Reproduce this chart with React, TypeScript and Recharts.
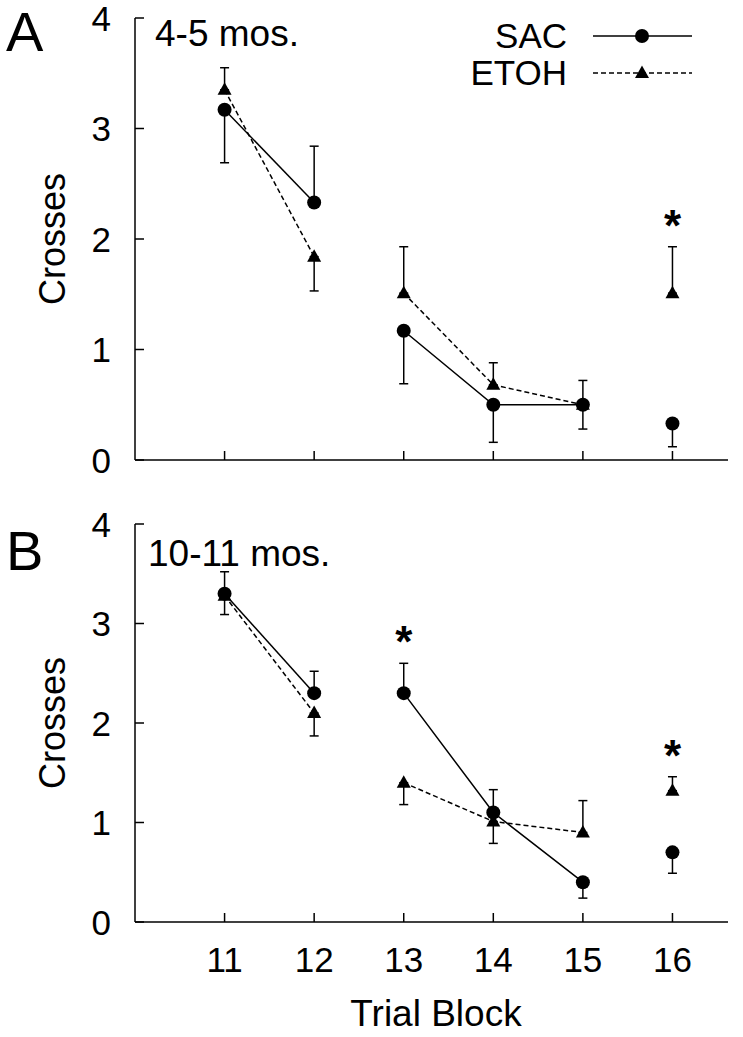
import React from 'react';
import { LineChart, Line, XAxis, YAxis, ErrorBar, Legend, ReferenceDot } from 'recharts';

// trial blocks and how the lines are broken up
const blocks = [11, 12, 13, 14, 15, 16];
const segments = [[11, 12], [13, 14, 15], [16]];
const seriesNames = ['SAC', 'ETOH'];
const yTicks = [0, 1, 2, 3, 4];

// A: 4-5 mos. (negative error = bar drawn downward)
const sacA = [3.17, 2.33, 1.17, 0.5, 0.5, 0.33];
const sacErrA = [-0.48, 0.51, -0.48, -0.34, -0.22, -0.21];
const etohA = [3.35, 1.84, 1.51, 0.68, 0.5, 1.51];
const etohErrA = [0.2, -0.31, 0.42, 0.2, 0.22, 0.42];
const sigA = [16];

// B: 10-11 mos.
const sacB = [3.3, 2.3, 2.3, 1.1, 0.4, 0.7];
const sacErrB = [-0.21, 0.22, 0.3, 0.23, -0.16, -0.21];
const etohB = [3.28, 2.1, 1.4, 1.01, 0.9, 1.32];
const etohErrB = [0.24, -0.23, -0.22, -0.22, 0.32, 0.14];
const sigB = [13, 16];

const FONT = '"Liberation Sans", Arial, Helvetica, sans-serif';
const W = 743;
const AXIS_LEFT = 135;
const Y_W = 60;
const X_H = 30;

function segRows(vals: number[], errs: number[], seg: number[]) {
  return seg.map((b) => {
    const i = blocks.indexOf(b);
    const e = errs[i];
    return { block: b, v: vals[i], err: e < 0 ? [-e, 0] : [0, e] };
  });
}

function topAt(b: number, lists: [number[], number[]][]) {
  const i = blocks.indexOf(b);
  return Math.max(...lists.map(([v, e]) => v[i] + Math.max(e[i], 0)));
}

const CircleDot = (props: any) => {
  const { cx, cy } = props;
  if (cx == null || cy == null) return <g />;
  return <circle cx={cx} cy={cy} r={7} fill="#000" />;
};

const TriangleDot = (props: any) => {
  const { cx, cy } = props;
  if (cx == null || cy == null) return <g />;
  return <polygon points={`${cx},${cy - 7.5} ${cx - 7},${cy + 5} ${cx + 7},${cy + 5}`} fill="#000" />;
};

// tick coords come in at the axis line (tickSize/tickMargin = 0)
const makeXTick = (showLabel: boolean) => (props: any) => {
  const { x, y, payload } = props;
  return (
    <g>
      <line x1={x} x2={x} y1={y} y2={y - 9} stroke="#000" strokeWidth={1.5} />
      {showLabel && (
        <text x={x} y={y + 50} textAnchor="middle" fontSize={35} fontFamily={FONT} fill="#000">
          {payload.value}
        </text>
      )}
    </g>
  );
};

const YTick = (props: any) => {
  const { x, y, payload } = props;
  return (
    <g>
      <line x1={x} x2={x + 9} y1={y} y2={y} stroke="#000" strokeWidth={1.5} />
      <text x={x - 24} y={y + 12.5} textAnchor="end" fontSize={35} fontFamily={FONT} fill="#000">
        {payload.value}
      </text>
    </g>
  );
};

const StarLabel = (props: any) => {
  const vb = props.viewBox || {};
  const cx = vb.x + (vb.width || 0) / 2;
  const cy = vb.y + (vb.height || 0) / 2;
  return (
    <text x={cx} y={cy - 6} textAnchor="middle" fontSize={44} fontWeight="bold" fontFamily={FONT} fill="#000">
      *
    </text>
  );
};

const LegendContent = (props: any) => {
  const seen: string[] = [];
  (props.payload || []).forEach((p: any) => {
    if (seriesNames.includes(p.value) && !seen.includes(p.value)) seen.push(p.value);
  });
  seen.sort((a, b) => seriesNames.indexOf(a) - seriesNames.indexOf(b));
  return (
    <svg width={340} height={100} style={{ display: 'block' }}>
      {seen.map((name, i) => {
        const ly = 36 + i * 37;
        const dashed = name === 'ETOH';
        return (
          <g key={name}>
            <text x={187} y={ly + 12} textAnchor="end" fontSize={35} fontFamily={FONT} fill="#000">
              {name}
            </text>
            <line x1={213} x2={312} y1={ly} y2={ly} stroke="#000" strokeWidth={1.5} strokeDasharray={dashed ? '5 3' : undefined} />
            {dashed ? <TriangleDot cx={262} cy={ly} /> : <CircleDot cx={262} cy={ly} />}
          </g>
        );
      })}
    </svg>
  );
};

interface PanelProps {
  sac: number[];
  sacErr: number[];
  etoh: number[];
  etohErr: number[];
  sig: number[];
  height: number;
  plotTop: number;
  plotBottom: number;
  letter: string;
  title: string;
  letterY: number;
  titleY: number;
  titleX: number;
  bottomAxis: boolean;
  legend: boolean;
}

function Panel(p: PanelProps) {
  const series = [
    { name: 'SAC', vals: p.sac, errs: p.sacErr, dash: undefined, dot: CircleDot },
    { name: 'ETOH', vals: p.etoh, errs: p.etohErr, dash: '5 3', dot: TriangleDot },
  ];
  const midY = (p.plotTop + p.plotBottom) / 2;
  return (
    <div style={{ position: 'relative', width: W, height: p.height }}>
      <LineChart
        width={W}
        height={p.height}
        margin={{ top: p.plotTop, right: 15, bottom: p.height - p.plotBottom - X_H, left: AXIS_LEFT - Y_W }}
      >
        <XAxis
          type="number"
          dataKey="block"
          domain={[10, 16.62]}
          ticks={blocks}
          height={X_H}
          tickSize={0}
          tickMargin={0}
          tickLine={false}
          tick={makeXTick(p.bottomAxis)}
          axisLine={{ stroke: '#000', strokeWidth: 1.5 }}
          allowDataOverflow
        />
        <YAxis
          type="number"
          domain={[0, 4]}
          ticks={yTicks}
          width={Y_W}
          tickSize={0}
          tickMargin={0}
          tickLine={false}
          tick={YTick}
          axisLine={{ stroke: '#000', strokeWidth: 1.5 }}
        />
        {series.map((s) =>
          segments.map((seg, k) => (
            <Line
              key={s.name + k}
              data={segRows(s.vals, s.errs, seg)}
              dataKey="v"
              name={s.name}
              legendType={k === 0 ? 'line' : 'none'}
              type="linear"
              stroke="#000"
              strokeWidth={1.5}
              strokeDasharray={s.dash}
              dot={s.dot}
              activeDot={false}
              isAnimationActive={false}
            >
              <ErrorBar dataKey="err" direction="y" width={4.5} stroke="#000" strokeWidth={1.5} isAnimationActive={false} />
            </Line>
          ))
        )}
        {p.sig.map((b) => (
          <ReferenceDot
            key={'sig' + b}
            x={b}
            y={topAt(b, [[p.sac, p.sacErr], [p.etoh, p.etohErr]])}
            r={0}
            fill="none"
            stroke="none"
            label={StarLabel}
          />
        ))}
        {p.legend && (
          <Legend
            layout="vertical"
            align="center"
            verticalAlign="middle"
            wrapperStyle={{ position: 'absolute', left: 380, top: 0, width: 340, height: 100 }}
            content={LegendContent}
          />
        )}
      </LineChart>
      <svg width={W} height={p.height} style={{ position: 'absolute', left: 0, top: 0, pointerEvents: 'none' }}>
        <text x={6} y={p.letterY} fontSize={56} fontFamily={FONT} fill="#000">
          {p.letter}
        </text>
        <text x={p.titleX} y={p.titleY} fontSize={37} fontFamily={FONT} fill="#000">
          {p.title}
        </text>
        <text x={65} y={midY} transform={`rotate(-90, 65, ${midY})`} textAnchor="middle" fontSize={36} fontFamily={FONT} fill="#000">
          Crosses
        </text>
        {p.bottomAxis && (
          <text x={436} y={p.height - 11} textAnchor="middle" fontSize={37} fontFamily={FONT} fill="#000">
            Trial Block
          </text>
        )}
      </svg>
    </div>
  );
}

export default function App() {
  return (
    <div style={{ position: 'absolute', left: 0, top: 0, width: W, height: 1037, background: '#fff' }}>
      <Panel
        sac={sacA}
        sacErr={sacErrA}
        etoh={etohA}
        etohErr={etohErrA}
        sig={sigA}
        height={480}
        plotTop={18}
        plotBottom={460}
        letter="A"
        title="4-5 mos."
        letterY={51}
        titleY={46}
        titleX={155}
        bottomAxis={false}
        legend
      />
      <Panel
        sac={sacB}
        sacErr={sacErrB}
        etoh={etohB}
        etohErr={etohErrB}
        sig={sigB}
        height={557}
        plotTop={44}
        plotBottom={442}
        letter="B"
        title="10-11 mos."
        letterY={90}
        titleY={86}
        titleX={148}
        bottomAxis
        legend={false}
      />
    </div>
  );
}
